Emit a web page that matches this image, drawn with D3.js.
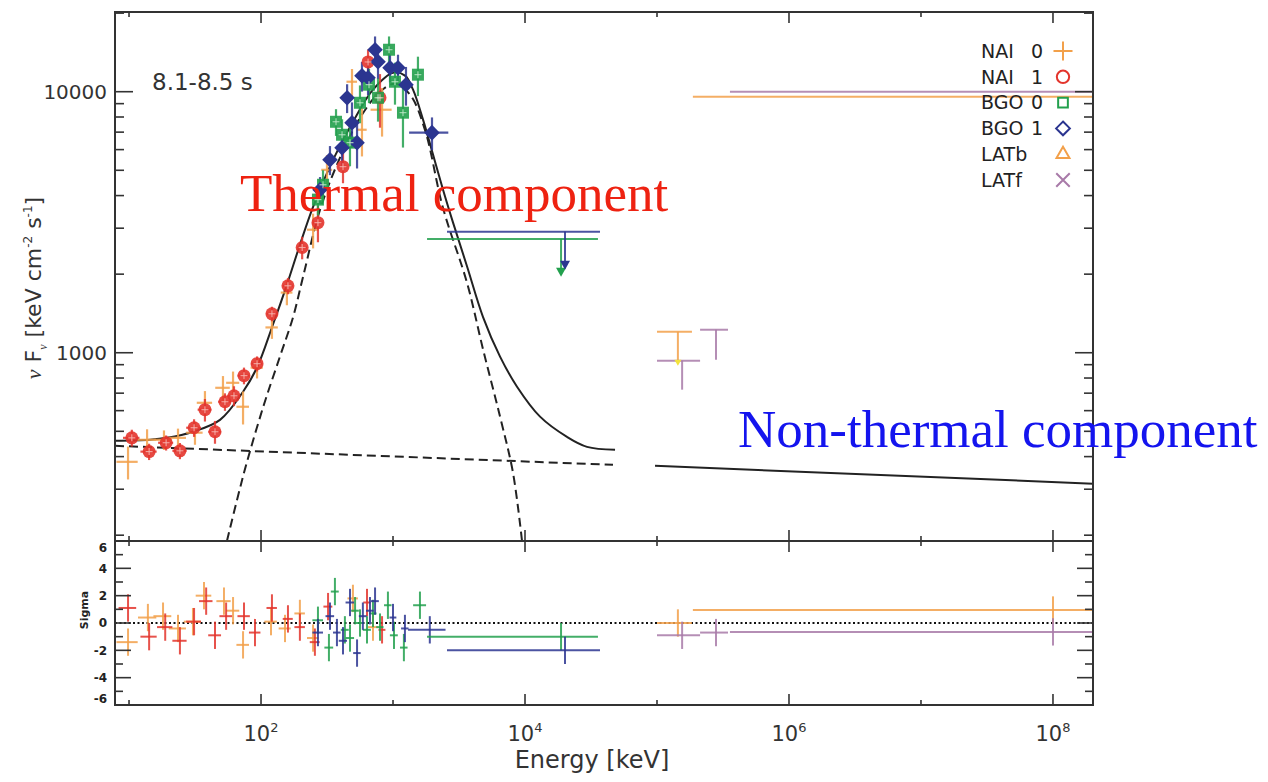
<!DOCTYPE html>
<html>
<head>
<meta charset="utf-8">
<script src="https://cdn.jsdelivr.net/npm/d3@7"></script>
<style>
  body { margin: 0; background: #fff; }
  svg { display: block; }
</style>
</head>
<body>
<svg width="1268" height="782"></svg>
<script>
// ---- values ----
const energyDomain = [7.83, 2.01e8];
const fluxDomain = [190, 20200];
const sigmaDomain = [-6, 6];

const xDecades = [1, 2, 3, 4, 5, 6, 7, 8];
const xLabelled = [2, 4, 6, 8];
const fluxMajor = [1000, 10000];
const fluxMinor = [200, 300, 400, 500, 600, 700, 800, 900, 2000, 3000, 4000, 5000, 6000, 7000, 8000, 9000, 20000];
const sigmaMajor = [-6, -4, -2, 0, 2, 4, 6];
const sigmaMinor = [-5, -3, -1, 1, 3, 5];

// model curves (energy keV, nuFnu)
const totalE = [7.83, 14.4, 19.4, 30.5, 48.9, 73.1, 93.2, 123, 157, 197, 248, 351, 497, 705, 1000, 1233, 1418, 1688, 2010, 2390, 2850, 3640, 4810, 6470, 8700, 13000, 20800, 29500, 48100];
const totalF = [460, 464, 472, 498, 553, 709, 877, 1280, 1820, 2590, 3620, 5480, 7670, 10180, 11830, 11520, 10180, 7820, 5740, 4220, 3150, 2140, 1370, 966, 741, 569, 476, 436, 425];
const thermalE = [55.2, 65.8, 78.3, 104, 139, 175, 208, 280, 396, 562, 798, 1035, 1345, 1746, 2390, 3640, 4810, 6470, 8110, 9490];
const thermalF = [190, 273, 382, 621, 966, 1370, 1950, 3530, 5580, 7940, 10000, 10730, 9750, 7140, 3590, 1850, 1030, 569, 347, 190];
const powerE = [7.83, 46400];
const powerF = [440, 372];
const tailE = [96600, 2.01e8];
const tailF = [369, 315];

// spectral points: [E, dE, F, dF]
const nai0 = [[9.83, 1.8, 382, 55], [13.7, 2.2, 464, 45], [18.4, 2.8, 464, 40], [23.5, 3.5, 472, 40], [31.6, 4.5, 494, 50],
  [37.6, 5, 643, 70], [51.5, 6.5, 734, 80], [61.4, 7, 767, 80], [73.1, 8, 621, 90], [93.3, 10, 877, 80],
  [121, 13, 1250, 120], [157, 16, 1700, 180], [248, 25, 2960, 450], [316, 30, 5020, 700], [489, 45, 10920, 1300],
  [582, 50, 7150, 1500], [826, 150, 8530, 1800]];
const nai1 = [[10.5, 1.5, 472, 35], [14.2, 2, 418, 30], [19.1, 2.5, 452, 30], [24.3, 3, 421, 30], [31.1, 4, 516, 40],
  [37.6, 4.5, 605, 60], [44.8, 5, 498, 50], [53.3, 6, 649, 50], [62.4, 7, 684, 60], [74.3, 8, 817, 60],
  [93.3, 9, 908, 60], [121, 11, 1410, 90], [160, 14, 1805, 130], [205, 18, 2530, 250], [270, 22, 3150, 500],
  [418, 30, 5160, 700], [647, 40, 13000, 1500], [797, 50, 9480, 2200]];
const bgo0 = [[270, 25, 3860, 500], [295, 25, 4400, 600], [370, 30, 7670, 900], [411, 30, 6840, 1000], [472, 35, 6380, 1200],
  [562, 40, 9070, 1500], [658, 45, 10640, 1600], [770, 50, 9480, 1800], [933, 60, 14480, 1800], [1035, 70, 10920, 2000],
  [1190, 80, 8310, 2200], [1545, 110, 11620, 2000]];
const bgo1 = [[280, 25, 4210, 500], [333, 25, 5490, 700], [411, 30, 6100, 900], [449, 30, 9480, 1200], [489, 35, 7600, 1500],
  [534, 35, 6380, 1300], [582, 40, 11510, 1500], [647, 45, 11310, 1600], [731, 50, 14480, 1800], [770, 50, 13030, 1800],
  [949, 60, 12360, 1500], [1091, 70, 12360, 1500], [1254, 80, 10640, 1800], [1974, 650, 6970, 1000]];

// upper limits: [Elo, Ehi, Earrow, F, Ftip]
const bgo0Limit = [[1811, 35700, 18750, 2730, 1955]];
const bgo1Limit = [[2565, 37000, 20100, 2910, 2080]];

// LAT bins: [Elo, Ehi, Ec, Ftop, Fbottom] and wide bins [Elo, Ehi, F]
const latbBins = [[100000, 184000, 144000, 1203, 923]];
const latfBins = [[100000, 212000, 155000, 932, 722], [212000, 345000, 280000, 1225, 940]];
const latbWide = [[187000, 5e10, 9570]];
const latfWide = [[357000, 5e10, 10000]];
const latbMark = [[144000, 900]];

// residuals: [E, dE, sigma]
const nai0Res = [[9.83, 1.8, -1.4], [13.9, 2.2, 0.4], [18.1, 2.8, 0.5], [23.5, 3.5, -0.4], [30.5, 4.5, 0.1],
  [37, 5, 2.0], [52.4, 6.5, 1.6], [61.4, 7, 0.9], [73.1, 8, -1.6], [119, 13, 0.1], [152, 16, -0.4],
  [197, 18, 0.7], [248, 25, -1.1], [497, 45, 1.8], [705, 60, -0.3]];
const nai1Res = [[9.83, 1.5, 1.1], [14.2, 2, -1.0], [18.8, 2.5, -0.3], [24.3, 3, -1.3], [31.1, 4, 0.1],
  [38.4, 4.5, 1.6], [44.8, 5, -0.9], [54.4, 6, 0.5], [74.3, 8, 0.5], [90, 9, -0.7], [121, 11, 1.1],
  [160, 14, 0.3], [197, 18, -0.3], [256, 22, -1.4], [322, 25, 1.2], [635, 40, 1.5], [826, 50, -0.5]];
const bgo0Res = [[270, 25, 0.2], [327, 25, -1.8], [363, 25, 2.3], [432, 30, -0.5], [472, 35, -1.1],
  [516, 35, 0.9], [562, 40, 0.0], [635, 45, -0.5], [705, 45, 0.7], [797, 50, -0.3], [915, 60, 1.3],
  [1017, 70, -0.9], [1209, 80, -1.8], [1600, 180, 1.3]];
const bgo1Res = [[270, 25, -0.7], [333, 25, 0.5], [376, 25, -0.7], [418, 30, -1.3], [472, 35, 1.5],
  [534, 35, -2.2], [591, 40, 0.5], [669, 45, 0.9], [731, 50, 1.6], [1000, 60, 0.4], [1231, 80, -0.4],
  [1900, 600, -0.5]];
// residual bins: [Elo, Ehi, Ec, sigma]
const bgo0LimitRes = [[1811, 35700, 18750, -1.0]];
const bgo1LimitRes = [[2565, 37000, 20100, -2.0]];
const latbRes = [[100000, 184000, 144000, 0.0], [187000, 5e10, 1e8, 0.95]];
const latfRes = [[100000, 212000, 155000, -0.9], [212000, 345000, 280000, -0.7], [357000, 5e10, 1e8, -0.65]];

const legendNames = ['NAI', 'NAI', 'BGO', 'BGO', 'LATb', 'LATf'];
const legendNums = ['0', '1', '0', '1', '', ''];

// ---- styles ----
const ORANGE = '#f2a04a';
const RED = '#e3342c';
const GREEN = '#22a04d';
const NAVY = '#2b3590';
const PURPLE = '#a87aa8';
const INK = '#333';
const SANS = 'DejaVu Sans, sans-serif';

const W = 1268, H = 782;
const L = 115, R = 1093, T = 12, M = 541, B = 705;

const svg = d3.select('svg');
svg.append('rect').attr('width', W).attr('height', H).attr('fill', '#fff');

const x = d3.scaleLog().domain(energyDomain).range([L, R]);
const y = d3.scaleLog().domain(fluxDomain).range([M, T]);
const ys = d3.scaleLinear().domain(sigmaDomain).range([B, M]);

const defs = svg.append('defs');
defs.append('clipPath').attr('id', 'clip-main').append('rect')
  .attr('x', L).attr('y', T).attr('width', R - L).attr('height', M - T);
defs.append('clipPath').attr('id', 'clip-res').append('rect')
  .attr('x', L).attr('y', M).attr('width', R - L).attr('height', B - M);

const main = svg.append('g').attr('clip-path', 'url(#clip-main)');
const res = svg.append('g').attr('clip-path', 'url(#clip-res)');

// ---- model curves ----
const line = d3.line().x(d => x(d[0])).y(d => y(d[1])).curve(d3.curveCatmullRom);

function curve(Es, Fs, dash) {
  main.append('path')
    .datum(d3.zip(Es, Fs))
    .attr('d', line)
    .attr('fill', 'none')
    .attr('stroke', '#222')
    .attr('stroke-width', 2)
    .attr('stroke-dasharray', dash);
}
curve(powerE, powerF, '9,5');
curve(thermalE, thermalF, '9,5');
curve(totalE, totalF, null);
curve(tailE, tailF, null);

// ---- helpers for error bars ----
function segments(g, rows, color, width, seg) {
  g.append('g')
    .attr('stroke', color)
    .attr('stroke-width', width)
    .attr('stroke-opacity', 0.85)
    .selectAll('line')
    .data(rows.flatMap(seg))
    .join('line')
    .attr('x1', d => d[0]).attr('y1', d => d[1])
    .attr('x2', d => d[2]).attr('y2', d => d[3]);
}

function fluxCrosses(rows, color) {
  segments(main, rows, color, 2.2, d => [
    [x(d[0] - d[1]), y(d[2]), x(d[0] + d[1]), y(d[2])],
    [x(d[0]), y(Math.max(d[2] - d[3], 1)), x(d[0]), y(d[2] + d[3])]
  ]);
}

function sigmaCrosses(rows, color) {
  segments(res, rows, color, 2, d => [
    [x(d[0] - d[1]), ys(d[2]), x(d[0] + d[1]), ys(d[2])],
    [x(d[0]), ys(d[2] - 1), x(d[0]), ys(d[2] + 1)]
  ]);
}

function sigmaBins(rows, color) {
  segments(res, rows, color, 2, d => [
    [x(d[0]), ys(d[3]), x(d[1]), ys(d[3])],
    [x(d[2]), ys(d[3] - 1), x(d[2]), ys(d[3] + 1)]
  ]);
}

// ---- spectrum points ----
fluxCrosses(nai0, ORANGE);
fluxCrosses(nai1, RED);
fluxCrosses(bgo0, GREEN);
fluxCrosses(bgo1, NAVY);

main.append('g').selectAll('circle').data(nai1).join('circle')
  .attr('cx', d => x(d[0])).attr('cy', d => y(d[2])).attr('r', 6.5)
  .attr('fill', RED).attr('fill-opacity', 0.9);
main.append('g').selectAll('rect').data(bgo0).join('rect')
  .attr('x', d => x(d[0]) - 6).attr('y', d => y(d[2]) - 6)
  .attr('width', 12).attr('height', 12)
  .attr('fill', GREEN).attr('fill-opacity', 0.9);
main.append('g').selectAll('rect').data(bgo1).join('rect')
  .attr('transform', d => `translate(${x(d[0])},${y(d[2])}) rotate(45)`)
  .attr('x', -5.5).attr('y', -5.5).attr('width', 11).attr('height', 11)
  .attr('fill', NAVY);

// light inner crosses on the markers
[[nai1, '#f6b4ae'], [bgo0, '#bfe7c9']].forEach(([rows, c]) => {
  segments(main, rows, c, 1.2, d => [
    [x(d[0]) - 3.5, y(d[2]), x(d[0]) + 3.5, y(d[2])],
    [x(d[0]), y(d[2]) - 3.5, x(d[0]), y(d[2]) + 3.5]
  ]);
});

// ---- BGO upper limits ----
function upperLimits(rows, color) {
  segments(main, rows, color, 2, d => [
    [x(d[0]), y(d[3]), x(d[1]), y(d[3])],
    [x(d[2]), y(d[3]), x(d[2]), y(d[4]) - 6]
  ]);
  main.append('g').selectAll('path').data(rows).join('path')
    .attr('d', d => {
      const px = x(d[2]), py = y(d[4]);
      return `M${px - 5},${py - 9}L${px + 5},${py - 9}L${px},${py}Z`;
    })
    .attr('fill', color);
}
upperLimits(bgo0Limit, GREEN);
upperLimits(bgo1Limit, NAVY);

// ---- LAT ----
function latT(rows, color) {
  segments(main, rows, color, 2, d => [
    [x(d[0]), y(d[3]), x(d[1]), y(d[3])],
    [x(d[2]), y(d[3]), x(d[2]), y(d[4])]
  ]);
}
latT(latbBins, ORANGE);
latT(latfBins, PURPLE);
segments(main, latbWide, ORANGE, 2, d => [[x(d[0]), y(d[2]), x(d[1]), y(d[2])]]);
segments(main, latfWide, PURPLE, 2, d => [[x(d[0]), y(d[2]), x(d[1]), y(d[2])]]);
main.append('g').selectAll('path').data(latbMark).join('path')
  .attr('d', d => {
    const px = x(d[0]), py = y(d[1]);
    return `M${px - 3.5},${py - 5}L${px + 3.5},${py - 5}L${px},${py + 1}Z`;
  })
  .attr('fill', '#f3e33c');

// ---- residuals ----
res.append('line')
  .attr('x1', L).attr('x2', R).attr('y1', ys(0)).attr('y2', ys(0))
  .attr('stroke', '#111').attr('stroke-width', 2).attr('stroke-dasharray', '2,2.5');

sigmaCrosses(nai0Res, ORANGE);
sigmaCrosses(nai1Res, RED);
sigmaCrosses(bgo0Res, GREEN);
sigmaCrosses(bgo1Res, NAVY);
sigmaBins(bgo0LimitRes, GREEN);
sigmaBins(bgo1LimitRes, NAVY);
sigmaBins(latbRes, ORANGE);
sigmaBins(latfRes, PURPLE);

// ---- frames and ticks ----
const frame = svg.append('g').attr('stroke', INK).attr('fill', 'none');
frame.append('rect').attr('x', L).attr('y', T).attr('width', R - L).attr('height', B - T)
  .attr('stroke-width', 2);
frame.append('line').attr('x1', L).attr('x2', R).attr('y1', M).attr('y2', M)
  .attr('stroke-width', 2);

const ticks = [];
xDecades.forEach(k => {
  const px = x(Math.pow(10, k));
  const len = xLabelled.includes(k) ? 11 : 5;
  ticks.push([px, T, px, T + len], [px, M - len, px, M + len], [px, B - len, px, B]);
});
fluxMajor.forEach(v => ticks.push([L, y(v), L + 18, y(v)], [R - 18, y(v), R, y(v)]));
fluxMinor.forEach(v => ticks.push([L, y(v), L + 9, y(v)], [R - 9, y(v), R, y(v)]));
sigmaMajor.forEach(v => ticks.push([L, ys(v), L + 16, ys(v)], [R - 16, ys(v), R, ys(v)]));
sigmaMinor.forEach(v => ticks.push([L, ys(v), L + 8, ys(v)], [R - 8, ys(v), R, ys(v)]));

frame.append('g').attr('stroke-width', 1.6)
  .selectAll('line').data(ticks).join('line')
  .attr('x1', d => d[0]).attr('y1', d => d[1])
  .attr('x2', d => d[2]).attr('y2', d => d[3]);

// ---- tick labels ----
svg.append('g').selectAll('text').data(fluxMajor).join('text')
  .attr('x', 107).attr('y', d => y(d) + 7)
  .attr('text-anchor', 'end')
  .style('font-family', SANS).style('font-size', '20px').style('fill', INK)
  .text(d => String(d));

const xl = svg.append('g').selectAll('text').data(xLabelled).join('text')
  .attr('x', d => x(Math.pow(10, d)))
  .attr('y', 741)
  .attr('text-anchor', 'middle')
  .style('font-family', SANS).style('font-size', '21px').style('fill', INK);
xl.append('tspan').text('10');
xl.append('tspan').attr('dy', -9).style('font-size', '13px').text(d => d);

svg.append('g').selectAll('text').data(sigmaMajor).join('text')
  .attr('x', 107)
  .attr('y', d => Math.min(Math.max(ys(d), M + 7), B - 6))
  .attr('dy', '0.35em')
  .attr('text-anchor', 'end')
  .style('font-family', SANS).style('font-size', '12px').style('font-weight', 'bold').style('fill', '#222')
  .text(d => d);

// ---- axis titles ----
svg.append('text')
  .attr('x', 592).attr('y', 768)
  .attr('text-anchor', 'middle')
  .style('font-family', SANS).style('font-size', '24px').style('fill', INK)
  .text('Energy [keV]');

const yt = svg.append('text')
  .attr('transform', 'translate(41,288) rotate(-90)')
  .attr('text-anchor', 'middle')
  .style('font-family', SANS).style('font-size', '22px').style('fill', INK);
yt.append('tspan').style('font-family', 'Liberation Serif, serif').style('font-style', 'italic').text('\u03bd');
yt.append('tspan').text(' F');
yt.append('tspan').attr('dy', 6).style('font-size', '12px').style('font-family', 'Liberation Serif, serif').style('font-style', 'italic').text('\u03bd');
yt.append('tspan').attr('dy', -6).text(' [keV cm');
yt.append('tspan').attr('dy', -9).style('font-size', '12px').text('-2');
yt.append('tspan').attr('dy', 9).text(' s');
yt.append('tspan').attr('dy', -9).style('font-size', '12px').text('-1');
yt.append('tspan').attr('dy', 9).text(']');

svg.append('text')
  .attr('transform', 'translate(88,610) rotate(-90)')
  .attr('text-anchor', 'middle')
  .style('font-family', SANS).style('font-size', '11px').style('font-weight', 'bold').style('fill', '#222')
  .text('Sigma');

svg.append('text')
  .attr('x', 152).attr('y', 90)
  .style('font-family', SANS).style('font-size', '23px').style('fill', INK)
  .text('8.1-8.5 s');

// ---- legend ----
const legendColors = [ORANGE, RED, GREEN, NAVY, ORANGE, PURPLE];
const legendSymbols = [d3.symbolPlus, d3.symbolCircle, d3.symbolSquare2, d3.symbolDiamond2, d3.symbolTriangle2, d3.symbolTimes];
const legend = svg.append('g').selectAll('g').data(legendNames).join('g')
  .attr('transform', (d, i) => `translate(0,${51 + i * 25.8})`);
legend.append('text')
  .attr('x', 981).attr('dy', '0.36em')
  .style('font-family', SANS).style('font-size', '19px').style('fill', '#222')
  .text(d => d);
legend.append('text')
  .attr('x', 1031).attr('dy', '0.36em')
  .style('font-family', SANS).style('font-size', '19px').style('fill', '#222')
  .text((d, i) => legendNums[i]);
legend.append('path')
  .attr('transform', 'translate(1063,0)')
  .attr('d', (d, i) => d3.symbol(legendSymbols[i], 120)())
  .attr('fill', 'none')
  .attr('stroke', (d, i) => legendColors[i])
  .attr('stroke-width', 2);

// ---- annotations ----
svg.append('text')
  .attr('x', 240).attr('y', 211)
  .style('font-family', 'Liberation Serif, Times New Roman, serif').style('font-size', '53px').style('fill', '#ee2211')
  .text('Thermal component');
svg.append('text')
  .attr('x', 738).attr('y', 447)
  .style('font-family', 'Liberation Serif, Times New Roman, serif').style('font-size', '53px').style('fill', '#1414ee')
  .text('Non-thermal component');
</script>
</body>
</html>
